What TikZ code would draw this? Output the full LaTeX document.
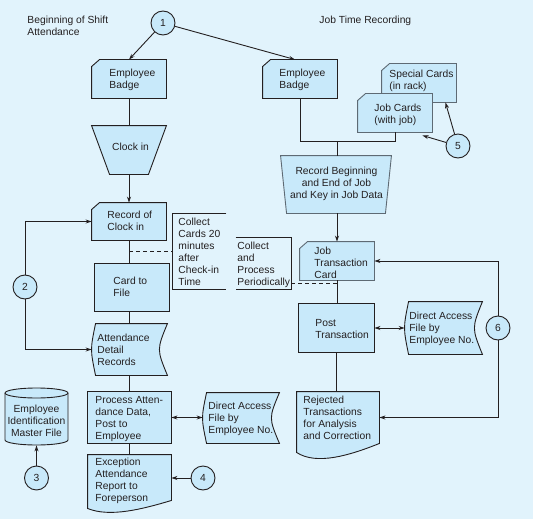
\documentclass[tikz,border=0pt]{standalone}
\usepackage{fontspec}
\setmainfont{Liberation Sans}
\usetikzlibrary{arrows.meta}
\definecolor{bg}{HTML}{E1F3FC}
\definecolor{fillc}{HTML}{C8E9FA}
\definecolor{ink}{HTML}{231F20}
\definecolor{grayink}{HTML}{5E6A74}
\newcommand{\cardpath}[2]{\path[#2] ([xshift=8pt]#1.north west) -- (#1.north east) -- (#1.south east) -- (#1.south west) -- ([yshift=-7pt]#1.north west) -- cycle;}
\newcommand{\rectpath}[2]{\path[#2] (#1.north west) rectangle (#1.south east);}
\newcommand{\trappath}[3]{\path[#2] (#1.north west) -- (#1.north east) -- ([xshift=-#3]#1.south east) -- ([xshift=#3]#1.south west) -- cycle;}
\newcommand{\storepath}[2]{\path[#2] ([xshift=4pt]#1.north west) -- (#1.north east) .. controls ([xshift=-10.7pt]#1.east) .. (#1.south east) -- ([xshift=4pt]#1.south west) .. controls ([xshift=-1.33pt]#1.west) .. ([xshift=4pt]#1.north west) -- cycle;}
\begin{document}
\begin{tikzpicture}[x=1pt,y=-1pt,line width=0.9pt,
  area/.style={inner sep=0pt, draw=none},
  lbl/.style={inner sep=0pt, anchor=north west, align=left, text=ink, font=\fontsize{10.3}{12}\selectfont},
  clbl/.style={inner sep=0pt, align=center, text=ink, font=\fontsize{10.3}{12}\selectfont},
  shp/.style={draw=ink, fill=fillc, line width=0.9pt},
  gshp/.style={draw=grayink, fill=fillc, line width=0.9pt},
  num/.style={circle, draw=ink, fill=fillc, minimum size=24pt, inner sep=0pt, text=ink, font=\fontsize{10.3}{12}\selectfont},
  conn/.style={draw=ink, line width=0.9pt},
  arr/.style={conn, -{Stealth[length=6pt,width=4pt]}},
  darr/.style={conn, {Stealth[length=6pt,width=4pt]}-{Stealth[length=6pt,width=4pt]}},
  dashline/.style={conn, dash pattern=on 4pt off 3pt}
]
\fill[bg] (0,0) rectangle (533,519);
\useasboundingbox (0,0) rectangle (533,519);

% anchor boxes
\node[area, minimum width=74pt, minimum height=38pt] (badgeL) at (129,79) {};
\node[area, minimum width=74pt, minimum height=48pt] (clock) at (129,150) {};
\node[area, minimum width=74pt, minimum height=37pt] (recclk) at (129,221.5) {};
\node[area, minimum width=74pt, minimum height=47pt] (card) at (132,287.5) {};
\node[area, minimum width=75pt, minimum height=51pt] (att) at (129.5,349.5) {};
\node[area, minimum width=83pt, minimum height=51pt] (proc) at (129.5,417.5) {};
\node[area, minimum width=83pt, minimum height=46pt] (exc) at (129.5,478) {};
\node[area, minimum width=76pt, minimum height=50pt] (dafL) at (241,418) {};
\node[area, minimum width=63pt, minimum height=57pt] (emf) at (36.5,416.5) {};
\node[area, minimum width=53pt, minimum height=75pt] (note1) at (199.5,251.5) {};
\node[area, minimum width=55pt, minimum height=51pt] (note2) at (263.5,263.5) {};
\node[area, minimum width=74pt, minimum height=38pt] (badgeR) at (300,79) {};
\node[area, minimum width=74pt, minimum height=38pt] (spec) at (419,83) {};
\node[area, minimum width=74pt, minimum height=38pt] (jobc) at (395,113) {};
\node[area, minimum width=110pt, minimum height=57pt] (recbeg) at (336,184.5) {};
\node[area, minimum width=74pt, minimum height=38pt] (jtc) at (337,261) {};
\node[area, minimum width=75pt, minimum height=48pt] (post) at (336.5,328) {};
\node[area, minimum width=77pt, minimum height=52pt] (dafR) at (443.5,328) {};
\node[area, minimum width=82pt, minimum height=51pt] (rej) at (338,417.5) {};

% shapes
\cardpath{badgeL}{shp}
\trappath{clock}{shp}{18pt}
\cardpath{recclk}{shp}
\rectpath{card}{shp}
\storepath{att}{shp}
\rectpath{proc}{shp}
\path[shp] (exc.north west) -- (exc.north east) -- ([yshift=1pt]exc.south east) .. controls ([xshift=-30pt,yshift=-8pt]exc.south east) and ([xshift=22pt,yshift=-16pt]exc.south west) .. ([yshift=-7pt]exc.south west) -- cycle;
\storepath{dafL}{shp}
\path[shp] (5,393) -- (5,440) arc[start angle=180,end angle=360,x radius=31.5pt,y radius=5pt] -- (68,393) arc[start angle=0,end angle=180,x radius=31.5pt,y radius=5pt] -- cycle;
\draw[ink] (5,393) arc[start angle=180,end angle=360,x radius=31.5pt,y radius=5pt];
\cardpath{badgeR}{shp}
\cardpath{spec}{gshp}
\cardpath{jobc}{gshp}
\trappath{recbeg}{gshp}{6pt}
\cardpath{jtc}{gshp}
\rectpath{post}{shp}
\storepath{dafR}{shp}
\path[shp] (rej.north west) -- (rej.north east) -- (rej.south east) .. controls ([xshift=-30pt,yshift=-12pt]rej.south east) and ([xshift=20pt,yshift=-22pt]rej.south west) .. ([yshift=-9pt]rej.south west) -- cycle;

% annotation brackets
\draw[conn] (note1.north east) -- (note1.north west) -- (note1.south west) -- (note1.south east);
\draw[conn] (note2.north west) -- (note2.north east) -- (note2.south east) -- (note2.south west);

% connector circles
\node[num] (c1) at (163,23) {1};
\node[num] (c2) at (25,287) {2};
\node[num] (c3) at (36.5,478) {3};
\node[num] (c4) at (203,478) {4};
\node[num] (c5) at (458,146) {5};
\node[num] (c6) at (498,328) {6};

% connectors left
\draw[arr] (c1) -- (badgeL.north);
\draw[arr] (c1) -- ([xshift=-5pt]badgeR.north);
\draw[conn] (badgeL) -- (clock);
\draw[arr] (clock) -- (recclk);
\draw[conn] (recclk.south) -- (recclk.south |- card.north);
\draw[conn] (att.north |- card.south) -- (att.north);
\draw[conn] (att) -- (proc);
\draw[conn] (proc) -- (exc);
\draw[darr] (proc.east) -- (proc.east -| dafL.west);
\draw[arr] (c4) -- (exc.east);
\draw[arr] (c3) -- (emf.south);
\draw[arr] (c2) |- (recclk.west);
\draw[arr] (c2) |- (att.west);
\draw[dashline] (recclk.south |- note1.west) -- (note1.west);
\coordinate (d2) at ([yshift=6pt]note2.south east);
\draw[dashline] (d2) -- (d2 -| jtc.south);

% connectors right
\coordinate (bus) at (337,141);
\draw[conn] (badgeR.south) |- (jobc.south |- bus) -- (jobc.south);
\draw[conn] (bus) -- (bus |- recbeg.north);
\draw[arr] (jtc.north |- recbeg.south) -- (jtc.north);
\draw[conn] (jtc) -- (jtc.south |- post.north);
\draw[darr] (post.east) -- (dafR.west);
\draw[conn] (post.south) -- (post.south |- rej.north);
\draw[arr] (c6) |- (jtc.east);
\draw[arr] (c6) |- (rej.east);
\draw[arr] (c5) -- ([xshift=-11pt]spec.south east);
\draw[arr] (c5) -- ([xshift=-10pt,yshift=-3pt]jobc.south east);

% texts
\node[lbl] (t1) at (27,16) {Beginning of Shift\\Attendance};
\node[lbl] (t2) at (319,16) {Job Time Recording};
\node[lbl] (tbL) at (109,69) {Employee\\Badge};
\node[clbl] (tclk) at (130.5,147) {Clock in};
\node[lbl] (trc) at (107,211) {Record of\\Clock in};
\node[lbl] (tcf) at (113,277) {Card to\\File};
\node[lbl] (tatt) at (97,334) {Attendance\\Detail\\Records};
\node[lbl] (tproc) at (95,396) {Process Atten-\\dance Data,\\Post to\\Employee};
\node[lbl] (texc) at (95,458) {Exception\\Attendance\\Report to\\Foreperson};
\node[lbl] (tdL) at (208,402) {Direct Access\\File by\\Employee No.};
\node[clbl, anchor=north] (temf) at (36.5,405) {Employee\\Identification\\Master File};
\node[lbl] (tn1) at (178,218) {Collect\\Cards 20\\minutes\\after\\Check-in\\Time};
\node[lbl] (tn2) at (237,242) {Collect\\and\\Process\\Periodically};
\node[lbl] (tbR) at (279,69) {Employee\\Badge};
\node[lbl] (tsp) at (389,70) {Special Cards\\(in rack)};
\node[lbl] (tjc) at (374,104) {Job Cards\\(with job)};
\node[clbl, anchor=north] (trb) at (336.5,167) {Record Beginning\\and End of Job\\and Key in Job Data};
\node[lbl] (tjtc) at (314,247) {Job\\Transaction\\Card};
\node[lbl] (tpost) at (315,319) {Post\\Transaction};
\node[lbl] (tdR) at (409,312) {Direct Access\\File by\\Employee No.};
\node[lbl] (trej) at (303,396) {Rejected\\Transactions\\for Analysis\\and Correction};
\end{tikzpicture}
\end{document}
